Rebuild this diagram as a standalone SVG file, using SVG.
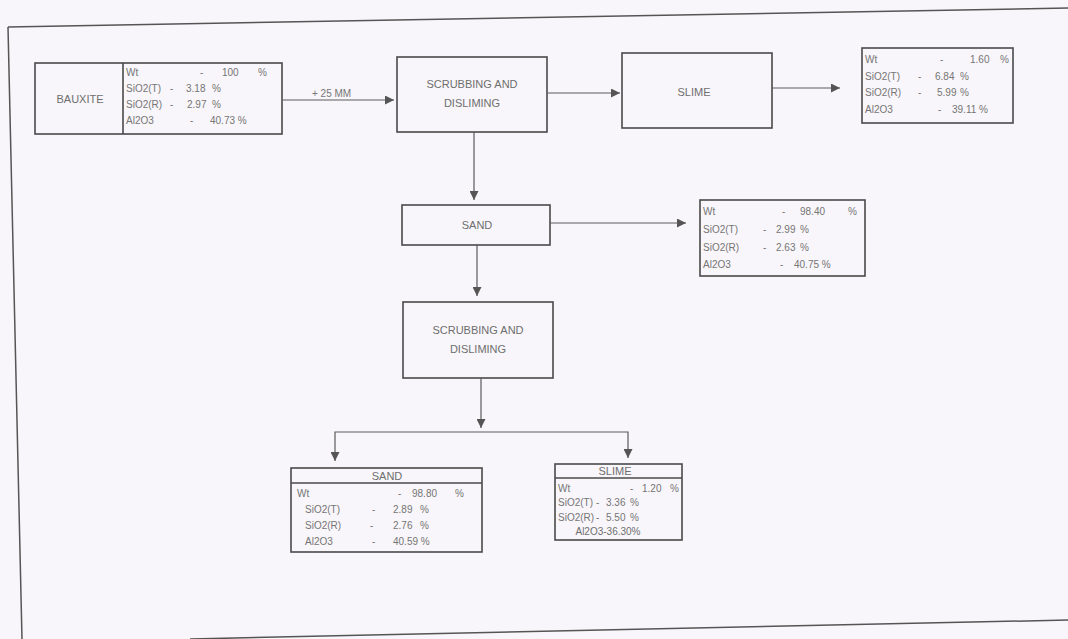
<svg xmlns="http://www.w3.org/2000/svg" width="1068" height="639" viewBox="0 0 1068 639">
<defs>
<marker id="ah" viewBox="0 0 10 10" refX="10" refY="5" markerWidth="10" markerHeight="9" markerUnits="userSpaceOnUse" orient="auto">
<path d="M0,0 L10,5 L0,10 z" fill="#555"/>
</marker>
<style>
.bx{fill:none;stroke:#4a4a4a;stroke-width:1.6}
.ln{fill:none;stroke:#5a5a5a;stroke-width:1.2}
.t{font-family:"Liberation Sans",Arial,sans-serif;font-size:10px;fill:#757575}
.tl{font-family:"Liberation Sans",Arial,sans-serif;font-size:11px;fill:#6e6e6e;text-anchor:middle}
.fr{fill:none;stroke:#555;stroke-width:1.5}
</style>
</defs>
<rect width="1068" height="639" fill="#f8f6fa"/>
<g id="frame">
<path class="fr" d="M8,27 L1068,8"/>
<path class="fr" d="M8,27 L22,639"/>
<path class="fr" d="M190,639 L1068,620"/>
</g>
<g id="bauxite">
<rect class="bx" x="35" y="63" width="247" height="71"/>
<line class="bx" x1="123" y1="63" x2="123" y2="134"/>
<text class="tl" x="80" y="103">BAUXITE</text>
<text class="t" x="126" y="76">Wt</text><text class="t" x="200" y="76">-</text><text class="t" x="222" y="76">100</text><text class="t" x="258" y="76">%</text>
<text class="t" x="126" y="92">SiO2(T)</text><text class="t" x="170" y="92">-</text><text class="t" x="186" y="92">3.18</text><text class="t" x="212" y="92">%</text>
<text class="t" x="126" y="108">SiO2(R)</text><text class="t" x="170" y="108">-</text><text class="t" x="187" y="108">2.97</text><text class="t" x="212" y="108">%</text>
<text class="t" x="126" y="124">Al2O3</text><text class="t" x="190" y="124">-</text><text class="t" x="210" y="124">40.73 %</text>
</g>
<g id="scrub1">
<rect class="bx" x="397" y="57" width="150" height="75"/>
<text class="tl" x="472" y="88">SCRUBBING AND</text>
<text class="tl" x="472" y="107">DISLIMING</text>
</g>
<g id="slime1">
<rect class="bx" x="622" y="53" width="150" height="75"/>
<text class="tl" x="694" y="96">SLIME</text>
</g>
<g id="slimeData">
<rect class="bx" x="862" y="48" width="151" height="75"/>
<text class="t" x="865" y="63">Wt</text><text class="t" x="940" y="63">-</text><text class="t" x="970" y="63">1.60</text><text class="t" x="1000" y="63">%</text>
<text class="t" x="865" y="80">SiO2(T)</text><text class="t" x="918" y="80">-</text><text class="t" x="935" y="80">6.84</text><text class="t" x="960" y="80">%</text>
<text class="t" x="865" y="96">SiO2(R)</text><text class="t" x="918" y="96">-</text><text class="t" x="937" y="96">5.99</text><text class="t" x="960" y="96">%</text>
<text class="t" x="865" y="113">Al2O3</text><text class="t" x="938" y="113">-</text><text class="t" x="952" y="113">39.11 %</text>
</g>
<g id="sand1">
<rect class="bx" x="402" y="205" width="148" height="40"/>
<text class="tl" x="477" y="229">SAND</text>
</g>
<g id="sandData">
<rect class="bx" x="700" y="200" width="165" height="76"/>
<text class="t" x="703" y="215">Wt</text><text class="t" x="782" y="215">-</text><text class="t" x="800" y="215">98.40</text><text class="t" x="848" y="215">%</text>
<text class="t" x="703" y="233">SiO2(T)</text><text class="t" x="763" y="233">-</text><text class="t" x="776" y="233">2.99</text><text class="t" x="800" y="233">%</text>
<text class="t" x="703" y="251">SiO2(R)</text><text class="t" x="763" y="251">-</text><text class="t" x="776" y="251">2.63</text><text class="t" x="800" y="251">%</text>
<text class="t" x="703" y="268">Al2O3</text><text class="t" x="780" y="268">-</text><text class="t" x="794" y="268">40.75 %</text>
</g>
<g id="scrub2">
<rect class="bx" x="403" y="302" width="150" height="76"/>
<text class="tl" x="478" y="334">SCRUBBING AND</text>
<text class="tl" x="478" y="353">DISLIMING</text>
</g>
<g id="sand2">
<rect class="bx" x="291" y="468" width="191" height="84"/>
<line class="bx" x1="291" y1="483" x2="482" y2="483"/>
<text class="tl" x="387" y="480">SAND</text>
<text class="t" x="297" y="497">Wt</text><text class="t" x="398" y="497">-</text><text class="t" x="412" y="497">98.80</text><text class="t" x="455" y="497">%</text>
<text class="t" x="305" y="513">SiO2(T)</text><text class="t" x="372" y="513">-</text><text class="t" x="393" y="513">2.89</text><text class="t" x="420" y="513">%</text>
<text class="t" x="305" y="529">SiO2(R)</text><text class="t" x="370" y="529">-</text><text class="t" x="393" y="529">2.76</text><text class="t" x="420" y="529">%</text>
<text class="t" x="305" y="545">Al2O3</text><text class="t" x="372" y="545">-</text><text class="t" x="393" y="545">40.59 %</text>
</g>
<g id="slime2">
<rect class="bx" x="555" y="464" width="127" height="76"/>
<line class="bx" x1="555" y1="478" x2="682" y2="478"/>
<text class="tl" x="615" y="475">SLIME</text>
<text class="t" x="558" y="492">Wt</text><text class="t" x="630" y="492">-</text><text class="t" x="642" y="492">1.20</text><text class="t" x="670" y="492">%</text>
<text class="t" x="558" y="506">SiO2(T)</text><text class="t" x="596" y="506">-</text><text class="t" x="606" y="506">3.36</text><text class="t" x="630" y="506">%</text>
<text class="t" x="558" y="521">SiO2(R)</text><text class="t" x="596" y="521">-</text><text class="t" x="606" y="521">5.50</text><text class="t" x="630" y="521">%</text>
<text class="tl" x="608" y="535" style="font-size:10px">Al2O3-36.30%</text>
</g>
<g id="connectors">
<line class="ln" x1="282" y1="100" x2="394" y2="100" marker-end="url(#ah)"/>
<text class="t" x="312" y="97">+ 25 MM</text>
<line class="ln" x1="547" y1="93" x2="620" y2="93" marker-end="url(#ah)"/>
<line class="ln" x1="772" y1="88" x2="840" y2="88" marker-end="url(#ah)"/>
<line class="ln" x1="474" y1="132" x2="474" y2="200" marker-end="url(#ah)"/>
<line class="ln" x1="550" y1="223" x2="686" y2="223" marker-end="url(#ah)"/>
<line class="ln" x1="477" y1="245" x2="477" y2="296" marker-end="url(#ah)"/>
<line class="ln" x1="481" y1="378" x2="481" y2="428" marker-end="url(#ah)"/>
<polyline class="ln" points="335,440 335,432 628,432 628,440"/>
<line class="ln" x1="335" y1="440" x2="335" y2="461" marker-end="url(#ah)"/>
<line class="ln" x1="628" y1="440" x2="628" y2="458" marker-end="url(#ah)"/>
</g>
</svg>
